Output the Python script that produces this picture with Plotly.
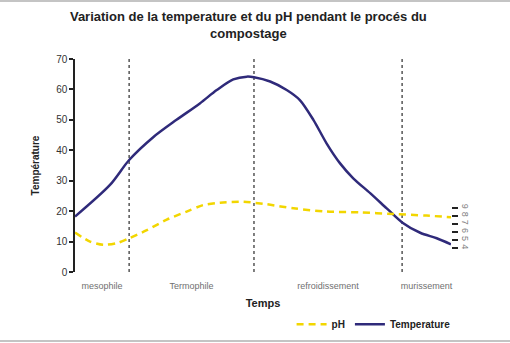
import plotly.graph_objects as go

# Time axis (arbitrary units, 0 = start, 100 = end of composting)
time_temp = [0, 9.3, 14.4, 20.8, 27.0, 33.2, 37.7, 42.1, 45.7, 47.6, 51.9, 56.3,
             59.8, 63.4, 66.9, 70.5, 74.0, 78.5, 82.9, 87.0, 91.8, 96.2, 100]
temperature = [18.2, 28.6, 36.8, 44.3, 50.0, 55.4, 59.8, 63.3, 64.2, 64.0, 62.6, 59.8,
               56.5, 50.0, 42.3, 35.7, 30.8, 25.9, 20.9, 16.3, 12.9, 11.1, 9.1]

time_ph = [0, 4.0, 7.5, 11.1, 14.4, 19.1, 24.4, 29.7, 34.1, 38.6, 44.8, 51.0,
           58.1, 66.9, 75.8, 84.7, 93.5, 100]
ph = [5.9, 4.8, 4.4, 4.6, 5.2, 6.2, 7.5, 8.5, 9.3, 9.6, 9.7, 9.4,
      8.9, 8.5, 8.4, 8.2, 8.0, 7.8]

# Phase boundaries and phase names
phase_bounds = [14.4, 47.6, 87.0]
phase_names = ["mesophile", "Termophile", "refroidissement", "murissement"]
ph_ticks = [4, 5, 6, 7, 8, 9]

edges = [0] + phase_bounds + [100]
phase_centers = [(a + b) / 2 for a, b in zip(edges[:-1], edges[1:])]

TEMP_COLOR = "#2f2a7a"
PH_COLOR = "#f2d600"
FONT = "Liberation Sans, Arial, sans-serif"

W, H = 510, 343
M_L, M_R, M_T, M_B = 75, 59, 59, 71
plot_h = H - M_T - M_B

fig = go.Figure()

fig.add_trace(go.Scatter(
    x=time_ph, y=ph, name="<b>pH</b>", mode="lines", yaxis="y2",
    line=dict(color=PH_COLOR, width=2.5, dash="7px,5px", shape="spline", smoothing=0.8),
))
fig.add_trace(go.Scatter(
    x=time_temp, y=temperature, name="<b>Temperature</b>", mode="lines",
    line=dict(color=TEMP_COLOR, width=2.5, shape="spline", smoothing=0.8),
))

# Dotted phase separators
for xb in phase_bounds:
    fig.add_shape(type="line", xref="x", yref="y", x0=xb, x1=xb, y0=0, y1=70,
                  line=dict(color="#555555", width=1.5, dash="dot"), layer="below")

# Thin frame lines along the top and bottom edges of the figure
for py in (1, H - 2):
    yy = (H - M_B - py) / plot_h
    fig.add_shape(type="line", xref="paper", yref="paper", x0=-0.25, x1=1.2,
                  y0=yy, y1=yy, line=dict(color="#c4c4c4", width=2))

fig.update_layout(
    width=W, height=H,
    margin=dict(l=M_L, r=M_R, t=M_T, b=M_B, autoexpand=False),
    paper_bgcolor="white", plot_bgcolor="white",
    font=dict(family=FONT, color="#222222"),
    title=dict(
        text="<b>Variation de la temperature et du pH pendant le procés du<br>compostage</b>",
        x=0.487, xanchor="center", y=0.938, yanchor="top",
        font=dict(size=13, color="#222222", family=FONT),
    ),
    xaxis=dict(
        range=[0, 100], showline=False, showgrid=False, zeroline=False,
        tickmode="array", tickvals=phase_centers, ticktext=phase_names,
        ticks="", tickfont=dict(size=9, color="#707070"), ticklabelstandoff=7,
        title=dict(text="<b>Temps</b>", font=dict(size=11, color="#222222"), standoff=9),
    ),
    yaxis=dict(
        range=[0, 70], dtick=10, showline=True, linecolor="#222222", linewidth=1.5,
        showgrid=False, zeroline=False, ticks="outside", ticklen=4, tickwidth=1.5,
        tickcolor="#222222", tickfont=dict(size=10, color="#333333"),
        title=dict(text="<b>Température</b>", font=dict(size=10, color="#222222"), standoff=15),
    ),
    yaxis2=dict(
        overlaying="y", side="right", range=[1.04, 27.33],
        tickmode="array", tickvals=ph_ticks, showline=False, showgrid=False,
        zeroline=False, ticks="outside", ticklen=6, tickwidth=2, tickcolor="#222222",
        tickangle=90, tickfont=dict(size=9, color="#808080"),
    ),
    legend=dict(
        orientation="h", x=0.576, xanchor="left",
        yref="container", y=0.097, yanchor="top",
        font=dict(size=10, color="#222222", family=FONT),
        traceorder="normal", bgcolor="rgba(0,0,0,0)",
    ),
    showlegend=True,
)

fig.write_html("out.html")
